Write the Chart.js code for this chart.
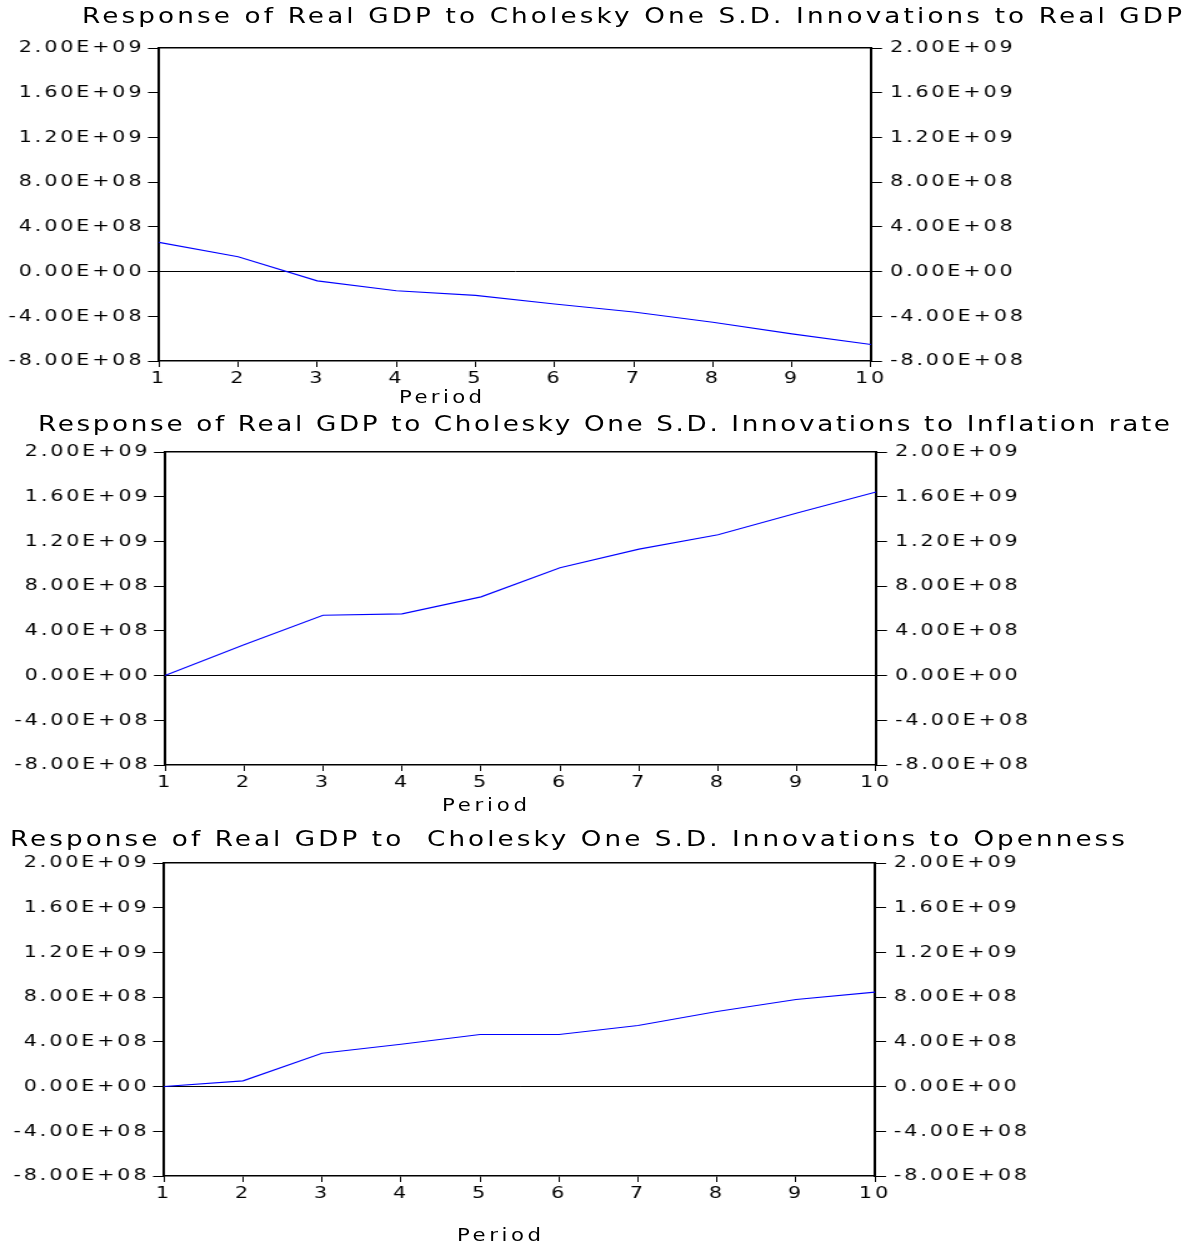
<!DOCTYPE html>
<html>
<head>
<meta charset="utf-8">
<script src="https://cdn.jsdelivr.net/npm/chart.js@4.4.1/dist/chart.umd.min.js"></script>
<style>
html,body{margin:0;padding:0;background:#fff;}
body{position:relative;width:1191px;height:1245px;overflow:hidden;}
canvas{position:absolute;left:0;}
.txt{position:absolute;white-space:pre;font-family:"DejaVu Sans";line-height:1;color:#000;transform-origin:0 0;}
</style>
</head>
<body>
<canvas id="c1" width="953" height="405" style="top:0px;width:1191px;height:405px"></canvas>
<canvas id="c2" width="953" height="410" style="top:405px;width:1191px;height:410px"></canvas>
<canvas id="c3" width="953" height="430" style="top:815px;width:1191px;height:430px"></canvas>
<script>
// ---- data ----
const periods = ['1', '2', '3', '4', '5', '6', '7', '8', '9', '10'];
const respToRealGDP = [2.61e8, 1.33e8, -0.83e8, -1.72e8, -2.13e8, -2.90e8, -3.62e8, -4.53e8, -5.57e8, -6.52e8];
const respToInflation = [0, 2.75e8, 5.40e8, 5.52e8, 7.04e8, 9.64e8, 1.131e9, 1.26e9, 1.454e9, 1.642e9];
const respToOpenness = [0, 0.51e8, 2.98e8, 3.79e8, 4.66e8, 4.66e8, 5.46e8, 6.72e8, 7.79e8, 8.45e8];
const yTickValues = [-8e8, -4e8, 0, 4e8, 8e8, 1.2e9, 1.6e9, 2e9];
const titleRealGDP = 'Response of Real GDP to Cholesky One S.D. Innovations to Real GDP';
const titleInflation = 'Response of Real GDP to Cholesky One S.D. Innovations to Inflation rate';
const titleOpenness = 'Response of Real GDP to  Cholesky One S.D. Innovations to Openness';
const xAxisTitle = 'Period';

// ---- layout (screen-pixel geometry of each panel) ----
const panels = [
  {id: 'c1', series: respToRealGDP, title: titleRealGDP, top: 0, height: 405,
   plotLeft: 159, plotRight: 871, plotTop: 48, plotBottom: 361,
   titleLeft: 82, titleWidth: 1100, titleBase: 22.7,
   periodCx: 440, periodBase: 402.5, periodWidth: 83},
  {id: 'c2', series: respToInflation, title: titleInflation, top: 405, height: 410,
   plotLeft: 165, plotRight: 876, plotTop: 452, plotBottom: 765,
   titleLeft: 38, titleWidth: 1132, titleBase: 431,
   periodCx: 484, periodBase: 811, periodWidth: 85},
  {id: 'c3', series: respToOpenness, title: titleOpenness, top: 815, height: 430,
   plotLeft: 164, plotRight: 875, plotTop: 863, plotBottom: 1176,
   titleLeft: 10, titleWidth: 1115, titleBase: 845.7,
   periodCx: 499, periodBase: 1241, periodWidth: 84}
];
const W = 1191;          // css width
const WC = 953;          // canvas backing width (stretched horizontally to W)
const SX = W / WC;       // horizontal stretch factor
const TICK_FONT = {family: 'DejaVu Sans', size: 16.5};
const TICK_SPACING = '2.3px';

function sci(v) {
  if (Math.abs(v) < 1e-9) return '0.00E+00';
  const e = Math.floor(Math.log10(Math.abs(v)) + 1e-12);
  const m = Math.abs(v) / Math.pow(10, e);
  return (v < 0 ? '-' : '') + m.toFixed(2) + 'E' + (e < 0 ? '-' : '+') + String(Math.abs(e)).padStart(2, '0');
}

const spacingPlugin = {
  id: 'spacing',
  beforeLayout(chart) { chart.ctx.letterSpacing = TICK_SPACING; },
  beforeDraw(chart) { chart.ctx.letterSpacing = TICK_SPACING; }
};

function yAxis(position, width, isMain) {
  return {
    type: 'linear', position: position, min: -8e8, max: 2e9,
    afterBuildTicks(s) { s.ticks = yTickValues.map(v => ({value: v})); },
    afterFit(s) { s.width = width; },
    grid: {
      display: true,
      drawOnChartArea: isMain,
      tickLength: 8.8,
      lineWidth: 1,
      color: (c) => (isMain && c.tick && c.tick.value === 0) ? '#000000' : 'rgba(0,0,0,0)',
      tickColor: '#000000'
    },
    border: {display: true, color: '#000000', width: 2},
    ticks: {
      color: '#000000', font: TICK_FONT, padding: isMain ? 3 : 6.4,
      callback: (v) => sci(v)
    }
  };
}

panels.forEach(p => {
  const canvas = document.getElementById(p.id);
  new Chart(canvas, {
    type: 'line',
    data: {
      labels: periods,
      datasets: [{
        data: p.series, borderColor: '#0000ff', borderWidth: 1.1,
        pointRadius: 0, fill: false, tension: 0, xAxisID: 'x', yAxisID: 'y'
      }]
    },
    options: {
      responsive: false, animation: false, events: [],
      layout: {padding: {top: p.plotTop - p.top, left: 0, right: 0, bottom: 0}},
      plugins: {legend: {display: false}, title: {display: false}, tooltip: {enabled: false}},
      scales: {
        x: {
          type: 'category', position: 'bottom', offset: false,
          afterFit(s) { s.height = p.top + p.height - p.plotBottom; },
          grid: {display: true, drawOnChartArea: false, tickLength: 6, lineWidth: 1,
                 color: '#000000', tickColor: '#000000', offset: false},
          border: {display: true, color: '#000000', width: 1.5},
          ticks: {color: '#000000', font: TICK_FONT, padding: 2, autoSkip: false, maxRotation: 0, minRotation: 0}
        },
        xTop: {
          type: 'category', position: 'top', offset: false,
          afterFit(s) { s.height = 0; },
          grid: {display: false, drawTicks: false},
          border: {display: true, color: '#000000', width: 1.5},
          ticks: {display: false}
        },
        y: yAxis('left', p.plotLeft / SX, true),
        y2: yAxis('right', WC - p.plotRight / SX, false)
      }
    },
    plugins: [spacingPlugin]
  });
});

// ---- HTML text (titles and axis captions), stretched like the chart ----
function placeText(text, size, baseline, width, left, cx) {
  const d = document.createElement('div');
  d.className = 'txt';
  d.style.fontSize = size + 'px';
  d.textContent = text;
  const probe = document.createElement('span');
  probe.style.cssText = 'display:inline-block;width:0;height:0;vertical-align:baseline;';
  d.appendChild(probe);
  document.body.appendChild(d);
  const natural = d.getBoundingClientRect().width;
  const n = text.length;
  const ls = (width / SX - natural) / (n - 1);
  d.style.letterSpacing = ls + 'px';
  d.style.transform = 'scaleX(' + SX + ')';
  const baseOff = probe.offsetTop;
  d.style.top = (baseline - baseOff) + 'px';
  d.style.left = (left !== null ? left : cx - width / 2) + 'px';
}
panels.forEach(p => {
  placeText(p.title, 21, p.titleBase, p.titleWidth, p.titleLeft, null);
  placeText(xAxisTitle, 17, p.periodBase, p.periodWidth, null, p.periodCx);
});
</script>
</body>
</html>
